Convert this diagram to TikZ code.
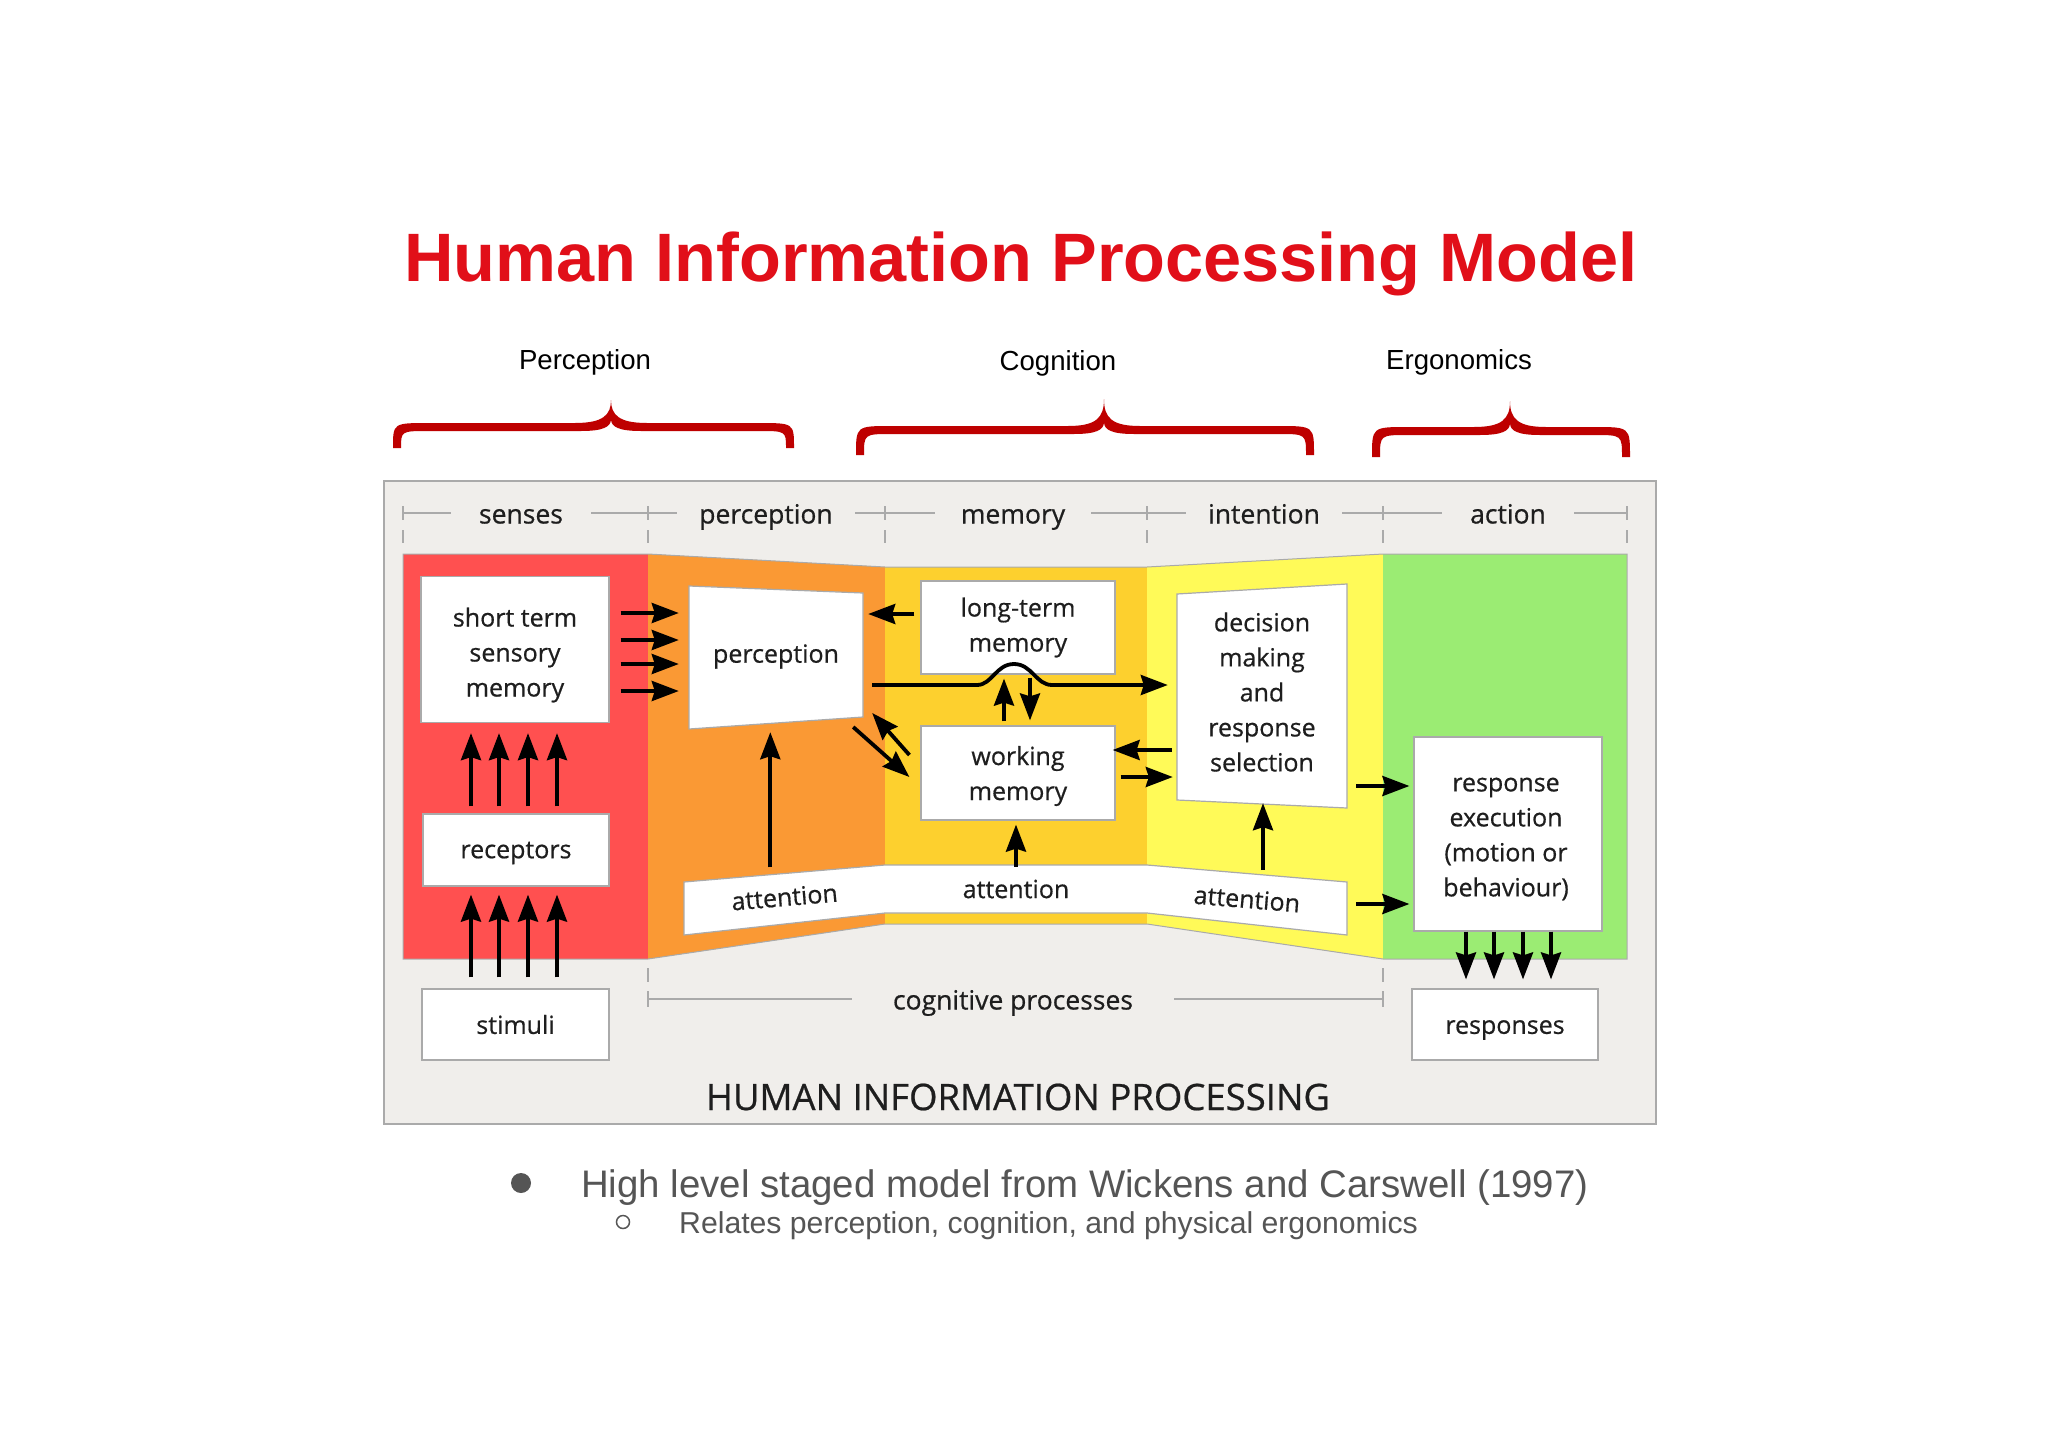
\documentclass[tikz,border=0pt]{standalone}
\usepackage{fontspec}
\setmainfont{Liberation Sans}
\newfontfamily\dfont[FakeBold=0.6]{Open Sans}
\usetikzlibrary{arrows.meta,calc}
\definecolor{titlered}{RGB}{225,15,25}
\definecolor{bracered}{RGB}{190,0,0}
\definecolor{panelbg}{RGB}{240,238,235}
\definecolor{edgegray}{RGB}{170,170,170}
\definecolor{cRed}{RGB}{255,80,80}
\definecolor{cOrange}{RGB}{250,153,52}
\definecolor{cMem}{RGB}{253,208,46}
\definecolor{cInt}{RGB}{255,250,88}
\definecolor{cGreen}{RGB}{155,236,115}
\definecolor{bullgray}{RGB}{85,85,85}
\definecolor{dtext}{RGB}{30,30,30}
\newcommand\mybrace[6]{% x0 x1 xm yend ybar ytip
  \fill[bracered] (#1-4,#4) .. controls (#1-4,#5-4) .. (#1+32,#5-4) -- (#3-36,#5-4)
    .. controls (#3-8,#5-4) and (#3,#5-12) .. (#3,#6)
    .. controls (#3,#5-12) and (#3+8,#5-4) .. (#3+36,#5-4) -- (#2-32,#5-4)
    .. controls (#2+4,#5-4) .. (#2+4,#4) -- (#2-4,#4)
    .. controls (#2-4,#5+4) .. (#2-32,#5+4) -- (#3+30,#5+4)
    .. controls (#3+8,#5+4) and (#3,#5) .. (#3,#5-8)
    .. controls (#3,#5) and (#3-8,#5+4) .. (#3-30,#5+4) -- (#1+32,#5+4)
    .. controls (#1+4,#5+4) .. (#1+4,#4) -- cycle;}
\begin{document}
\begin{tikzpicture}[x=1pt,y=-1pt,
  box/.style={draw=edgegray, line width=1.2pt, fill=white},
  lbl/.style={font=\dfont\fontsize{25}{35}\selectfont, align=center, text=dtext},
  hdr/.style={font=\dfont\fontsize{26.5}{30}\selectfont, text=dtext, fill=panelbg, inner ysep=2pt, text height=19pt, text depth=6pt},
  arr/.style={line width=3.8pt, -{Stealth[length=27pt,width=20pt,inset=3pt]}},
  rulel/.style={draw=edgegray, line width=1.2pt},
  panel/.style={draw=edgegray, line width=1pt},
  ghost/.style={draw=none, inner sep=0pt},
]
\useasboundingbox[fill=white] (0,0) rectangle (2048,1448);

% title and group labels
\node[font=\bfseries\fontsize{68.5}{80}\selectfont, text=titlered, anchor=base] (title) at (1021,281) {Human Information Processing Model};
\node[font=\fontsize{27.6}{32}\selectfont, anchor=base] (gPer) at (585,369) {Perception};
\node[font=\fontsize{27.6}{32}\selectfont, anchor=base] (gCog) at (1058,370) {Cognition};
\node[font=\fontsize{27.6}{32}\selectfont, anchor=base] (gErg) at (1459,369) {Ergonomics};
\mybrace{397}{790}{611}{448}{427}{400}
\mybrace{860}{1310}{1104}{455}{430}{399}
\mybrace{1376}{1626}{1510}{457}{431}{401}

% frame
\draw[draw=edgegray, fill=panelbg, line width=1.5pt] (384,481) rectangle (1656,1124);

% header
\draw[rulel] (403,513) -- (1627,513);
\foreach \xx in {403,648,885,1147,1383,1627}{
  \draw[rulel] (\xx,506) -- (\xx,520);
  \draw[rulel] (\xx,530) -- (\xx,543);
}
\node[hdr, inner xsep=28pt] (hSen) at (521,517) {senses};
\node[hdr, inner xsep=22pt] (hPer) at (766,517) {perception};
\node[hdr, inner xsep=26pt] (hMem) at (1013,517) {memory};
\node[hdr, inner xsep=22pt] (hInt) at (1264,517) {intention};
\node[hdr, inner xsep=28pt] (hAct) at (1508,517) {action};

% coloured panels
\fill[cRed] (403,554) rectangle (648,959);
\fill[cOrange] (648,554) -- (885,567) -- (885,924) -- (648,959) -- cycle;
\fill[cMem] (885,567) -- (1147,567) -- (1147,924) -- (885,924) -- cycle;
\fill[cInt] (1147,567) -- (1383,554) -- (1383,959) -- (1147,924) -- cycle;
\fill[cGreen] (1383,554) rectangle (1627,959);
\draw[panel] (403,554) -- (648,554) -- (885,567) -- (1147,567) -- (1383,554) -- (1627,554)
  -- (1627,959) -- (1383,959) -- (1147,924) -- (885,924) -- (648,959) -- (403,959) -- cycle;

% bottom rule
\draw[rulel] (648,999) -- (1383,999);
\foreach \xx in {648,1383}{
  \draw[rulel] (\xx,991) -- (\xx,1007);
  \draw[rulel] (\xx,968) -- (\xx,982);
}
\node[hdr, inner xsep=41pt] (cogp) at (1013,1003) {cognitive processes};
\node[font=\dfont\fontsize{36.5}{40}\selectfont, text=dtext] (hip) at (1018,1097) {HUMAN INFORMATION PROCESSING};

% attention band
\draw[box] (684,882) -- (885,865) -- (1147,865) -- (1347,882) -- (1347,935) -- (1147,913) -- (885,913) -- (684,935) -- cycle;
\node[lbl, ghost, rotate=4.8, minimum width=201pt, minimum height=51pt] (att1) at (784.5,897) {attention};
\node[lbl, ghost, minimum width=262pt, minimum height=48pt] (att2) at (1016,889) {attention};
\node[lbl, ghost, rotate=-4.8, minimum width=200pt, minimum height=51pt] (att3) at (1247,899) {attention};

% boxes
\node[box, minimum width=188pt, minimum height=146pt] (stsm) at (515,649.5) {};
\node[lbl] (stsmT) at (515,655) {short term\\sensory\\memory};
\node[box, lbl, minimum width=186pt, minimum height=72pt, text depth=0pt] (recep) at (516,850) {receptors};
\node[box, lbl, minimum width=187pt, minimum height=71pt] (stim) at (515.5,1024.5) {stimuli};
\draw[box] (689,586) -- (863,593) -- (863,717) -- (689,729) -- cycle;
\node[lbl, ghost, minimum width=174pt, minimum height=133pt] (percep) at (776,656.5) {perception};
\node[box, lbl, minimum width=194pt, minimum height=93pt] (ltm) at (1018,627.5) {long-term\\memory};
\node[box, minimum width=194pt, minimum height=94pt] (wm) at (1018,773) {};
\node[lbl] (wmT) at (1018,776) {working\\memory};
\draw[box] (1177,594) -- (1347,584) -- (1347,808) -- (1177,800) -- cycle;
\node[lbl, ghost, minimum width=170pt, minimum height=210pt] (decis) at (1262,692) {decision\\making\\and\\response\\selection};
\node[box, minimum width=188pt, minimum height=194pt] (respx) at (1508,834) {};
\node[lbl] (respxT) at (1506,839) {response\\execution\\(motion or\\behaviour)};
\node[box, minimum width=186pt, minimum height=71pt] (resps) at (1505,1024.5) {};
\node[lbl, text depth=0pt] (respsT) at (1505,1027) {responses};

% arrows
\foreach \yy in {613,640,664,691}
  \draw[arr, shorten <=11pt, shorten >=10pt] (stsm.east |- 0,\yy) -- (percep.west |- 0,\yy);
\foreach \xx in {471,499,528,557}{
  \draw[arr, shorten <=7pt, shorten >=10pt] (recep.north -| \xx,0) -- (stsm.south -| \xx,0);
  \draw[arr, shorten <=11pt, shorten >=8pt] (stim.north -| \xx,0) -- (recep.south -| \xx,0);
}
\draw[arr, shorten >=9pt] ($(att1.north west)!0.44!(att1.north east)$) ++(0,-5) coordinate (a1top) -- (percep.south -| a1top);
\draw[arr, shorten <=6pt, shorten >=5pt] (ltm.west |- 0,614) -- (percep.east |- 0,614);
\draw[arr, shorten <=9pt, shorten >=9pt] (percep.east |- 0,685) -- (977,685)
  .. controls (992,685) and (996,664) .. (1014,664)
  .. controls (1032,664) and (1036,685) .. (1052,685) -- (decis.west |- 0,685);
\draw[arr, shorten <=4pt, shorten >=4pt] (wm.north -| 1004,0) -- (ltm.south -| 1004,0);
\draw[arr, shorten <=3pt, shorten >=5pt] (ltm.south -| 1030,0) -- (wm.north -| 1030,0);
\draw[arr] ([shift={(-11,-18)}]wm.west) -- ([shift={(9,56.5)}]percep.east);
\draw[arr] ([shift={(-10,70.5)}]percep.east) -- ([shift={(-11,4)}]wm.west);
\draw[arr, shorten <=5pt, shorten >=-3pt] (decis.west |- 0,750) -- (wm.east |- 0,750);
\draw[arr, shorten <=5pt, shorten >=4pt] (wm.east |- 0,777) -- (decis.west |- 0,777);
\draw[arr, shorten <=-2pt, shorten >=4pt] (att2.north -| 1016,0) -- (wm.south -| 1016,0);
\draw[arr, shorten >=6pt] (1263,870) coordinate (a3top) -- (decis.south -| a3top);
\draw[arr, shorten <=9pt, shorten >=4pt] (decis.east |- 0,786) -- (respx.west |- 0,786);
\draw[arr, shorten <=9pt, shorten >=4pt] (1347,904) coordinate (a3end) -- (respx.west |- a3end);
\foreach \xx in {1466,1494,1523,1551}
  \draw[arr, shorten >=9pt] (respx.south -| \xx,0) -- (resps.north -| \xx,0);

% bullets
\fill[bullgray] (521,1183) circle (10);
\node[font=\fontsize{38.4}{44}\selectfont, text=bullgray, anchor=base west, inner sep=0pt] (b1) at (581,1197) {High level staged model from Wickens and Carswell (1997)};
\draw[bullgray, line width=1.5pt] (623,1222) circle (6.5);
\node[font=\fontsize{30.2}{36}\selectfont, text=bullgray, anchor=base west, inner sep=0pt] (b2) at (679,1233) {Relates perception, cognition, and physical ergonomics};
\end{tikzpicture}
\end{document}
